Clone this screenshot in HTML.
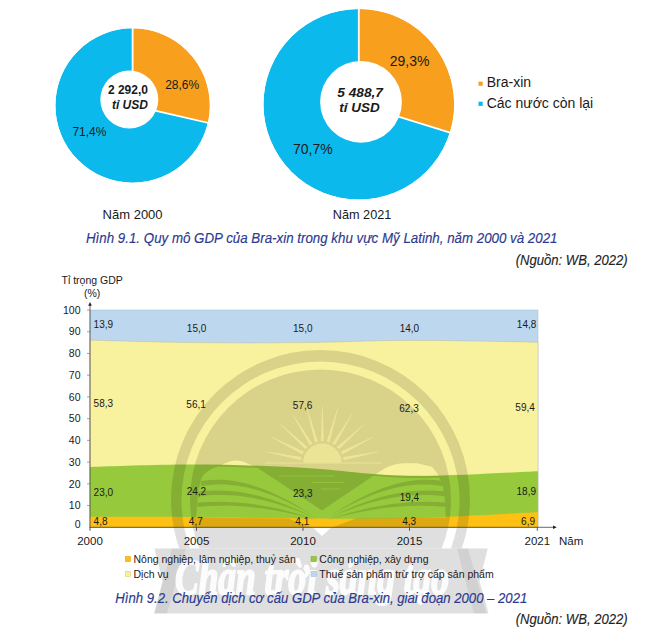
<!DOCTYPE html>
<html lang="vi">
<head>
<meta charset="utf-8">
<title>Hình 9.1 - 9.2</title>
<style>
html,body{margin:0;padding:0;background:#fff;}
body{width:646px;height:633px;overflow:hidden;}
svg{display:block;}
text{font-family:"Liberation Sans",Arial,sans-serif;fill:#1a1a1a;}
.cap{font-style:italic;fill:#2b3990;font-size:14px;stroke:#2b3990;stroke-width:.15px;}
.src{font-style:italic;fill:#222;font-size:14px;stroke:#222;stroke-width:.12px;}
.ctr{font-weight:bold;text-anchor:middle;}
.tick{font-size:10.5px;text-anchor:end;}
.xl{font-size:11.5px;text-anchor:middle;}
.dl{font-size:10px;}
.lg{font-size:10.5px;}
.script{font-family:"Liberation Serif","DejaVu Serif",serif;font-style:italic;font-weight:bold;fill:#fff;stroke:#fff;stroke-width:2px;stroke-linejoin:round;opacity:.92;}
</style>
</head>
<body>
<svg width="646" height="633" viewBox="0 0 646 633">
<rect width="646" height="633" fill="#fff"/>

<circle cx="132.6" cy="105.5" r="77.2" fill="#0cb9ed"/>
<path d="M132.60,105.50 L132.60,27.30 A78.2,78.2 0 0 1 208.81,123.04 Z" fill="#f8a01d" stroke="#fff" stroke-width="1.8" stroke-linejoin="miter"/>
<circle cx="132.6" cy="105.5" r="79.2" fill="none" stroke="#fff" stroke-width="4"/>
<circle cx="129.3" cy="99.5" r="29" fill="#fff"/>
<circle cx="358.8" cy="104.25" r="95.35" fill="#0cb9ed"/>
<path d="M358.80,104.25 L358.80,7.90 A96.35,96.35 0 0 1 450.82,132.82 Z" fill="#f8a01d" stroke="#fff" stroke-width="1.8" stroke-linejoin="miter"/>
<circle cx="358.8" cy="104.25" r="97.35" fill="none" stroke="#fff" stroke-width="4"/>
<circle cx="361" cy="101.8" r="40.9" fill="#fff"/>
<text class="ctr" x="127.9" y="94.2" font-size="12px">2 292,0</text>
<text class="ctr" x="129.9" y="108.6" font-size="12px" font-style="italic">tỉ USD</text>
<text x="165.2" y="89.3" font-size="12px">28,6%</text>
<text x="72.4" y="135.6" font-size="12px">71,4%</text>
<text x="102.6" y="218.8" font-size="13px">Năm 2000</text>
<text class="ctr" x="360.1" y="96.9" font-size="12.7px" font-style="italic" textLength="45.7" lengthAdjust="spacingAndGlyphs">5 488,7</text>
<text class="ctr" x="359.5" y="112.4" font-size="12.7px" font-style="italic" textLength="40.4" lengthAdjust="spacingAndGlyphs">tỉ USD</text>
<text x="389.7" y="65.5" font-size="14px">29,3%</text>
<text x="293" y="153.5" font-size="14px">70,7%</text>
<text x="332.8" y="218.7" font-size="12.7px">Năm 2021</text>
<rect x="478.5" y="81.6" width="4.2" height="4.2" fill="#f8a01d"/>
<text x="486.7" y="87.2" font-size="14px">Bra-xin</text>
<rect x="478.5" y="101.7" width="4.2" height="4.2" fill="#0cb9ed"/>
<text x="486.7" y="107.8" font-size="14px">Các nước còn lại</text>
<text class="cap" x="86" y="243.2" textLength="471.5" lengthAdjust="spacingAndGlyphs">Hình 9.1. Quy mô GDP của Bra-xin trong khu vực Mỹ Latinh, năm 2000 và 2021</text>
<text class="src" x="515.7" y="265" textLength="112" lengthAdjust="spacingAndGlyphs">(Nguồn: WB, 2022)</text>
<path d="M90.00,310.00 C109.17,310.00 158.16,310.00 196.50,310.00 C234.84,310.00 264.66,310.00 303.00,310.00 C341.34,310.00 367.20,310.00 409.50,310.00 C451.80,310.00 514.87,310.00 538.00,310.00 L538.00,527.30 L90.00,527.30 Z" fill="#bdd7ee" stroke="#a8b8c8" stroke-width="0.5"/>
<path d="M90.00,340.20 C109.17,340.63 158.16,342.16 196.50,342.59 C234.84,343.03 264.66,342.99 303.00,342.59 C341.34,342.20 367.20,340.50 409.50,340.42 C451.80,340.34 514.87,341.85 538.00,342.16 L538.00,527.30 L90.00,527.30 Z" fill="#f8f19d" stroke="#b9b48a" stroke-width="0.4"/>
<path d="M90.00,466.89 C109.17,466.46 158.16,464.34 196.50,464.50 C234.84,464.66 264.66,465.73 303.00,467.76 C341.34,469.79 367.20,475.17 409.50,475.80 C451.80,476.43 514.87,472.06 538.00,471.24 L538.00,527.30 L90.00,527.30 Z" fill="#97c93c"/>
<path d="M90.00,516.87 C109.17,516.91 158.16,516.81 196.50,517.09 C234.84,517.36 264.66,518.23 303.00,518.39 C341.34,518.55 367.20,519.05 409.50,517.96 C451.80,516.86 514.87,513.32 538.00,512.31 L538.00,527.30 L90.00,527.30 Z" fill="#fdc013"/>
<defs>
<mask id="wmm" maskUnits="userSpaceOnUse" x="0" y="0" width="646" height="633">
<rect width="646" height="633" fill="#fff"/>
<path d="M303.1,462.7 A19.2,19.2 0 0 1 341.5,462.7 Z" fill="#6a6a6a"/>
<path d="M301.5,457.0 L266.4,451.6 L266.3,452.0 L300.9,460.2 Z M303.8,451.6 L271.5,436.8 L271.3,437.2 L302.4,454.4 Z M307.6,447.0 L280.5,424.0 L280.2,424.3 L305.4,449.3 Z M312.4,443.5 L292.6,414.0 L292.3,414.3 L309.7,445.2 Z M318.0,441.6 L307.0,407.8 L306.6,407.9 L314.9,442.4 Z M323.9,441.2 L322.5,405.7 L322.1,405.7 L320.7,441.2 Z M329.7,442.4 L338.0,407.9 L337.6,407.8 L326.6,441.6 Z M334.9,445.2 L352.3,414.3 L352.0,414.0 L332.2,443.5 Z M339.2,449.3 L364.4,424.3 L364.1,424.0 L337.0,447.0 Z M342.2,454.4 L373.3,437.2 L373.1,436.8 L340.8,451.6 Z M343.7,460.2 L378.3,452.0 L378.2,451.6 L343.1,457.0 Z" fill="#666"/>
<path d="M265,463.0 H381" stroke="#777" stroke-width="1.2"/>
<path d="M201.5,478 C206,471 212,468 220,466 C226,462.5 231,460.6 236,460.6 C242,460.6 247,463 253,466.3 L257,467.5 L322.0,510.5 L379,472 C386,467 395,463.3 404,463.3 L417,463.3 L432,466.7 L438.5,475 L443,487 L445,500 L445.5,514 L446,517.5 L356,518.5 L330.6,528 L322.0,536 L313.4,528 L288,518.5 L196,517.5 L196.5,512 L197.5,500 L198.5,490 Z" fill="#000"/>
<path d="M201,481 C230,477 262,482 314,516 C262,485.5 230,481.5 201,486 Z" fill="#fff"/>
<path d="M198.5,491.5 C232,488 266,493 315,518 C266,496.5 232,492.5 198.5,496.5 Z" fill="#fff"/>
<path d="M197.5,502.5 C236,499.5 275,505 316.5,520 C275,508 236,503.5 197.5,507 Z" fill="#fff"/>
<path d="M443,481 C414,477 382,482 330,516 C382,485.5 414,481.5 443,486 Z" fill="#fff"/>
<path d="M445.5,491.5 C412,488 378,493 329,518 C378,496.5 412,492.5 445.5,496.5 Z" fill="#fff"/>
<path d="M446.5,502.5 C408,499.5 369,505 327.5,520 C369,508 408,503.5 446.5,507 Z" fill="#fff"/>
<path d="M90.00,468.09 C109.17,467.66 158.16,465.54 196.50,465.70 C234.84,465.86 264.66,466.93 303.00,468.96 C341.34,470.99 367.20,476.37 409.50,477.00 C451.80,477.63 514.87,473.26 538.00,472.44" fill="none" stroke="#fff" stroke-width="1.8"/>
<path d="M279,476 H334 M312,482.5 H344 M321,489 H340" stroke="#444" stroke-width="1"/>
</mask>
<clipPath id="wmtop"><rect x="0" y="0" width="646" height="548.5"/></clipPath>
</defs>
<g opacity="0.12" mask="url(#wmm)" fill="#000">
<g clip-path="url(#wmtop)">
<path fill-rule="evenodd" d="M171.00,499.50 a149.5,149.5 0 1 0 299.0,0 a149.5,149.5 0 1 0 -299.0,0 Z M181.50,500.50 a139.0,139.0 0 1 0 278.0,0 a139.0,139.0 0 1 0 -278.0,0 Z"/>
<circle cx="320.5" cy="500.0" r="130.5"/>
</g>
<path d="M154.5,548.5 L487.8,548.5 L479.5,581 L488.5,613.5 L154,613.5 L162.5,581 Z"/>
</g>
<g opacity="0.06" fill="#000">
<path d="M172,548.5 L186,548.5 L167,613.5 L154.5,613.5 Z"/>
<path d="M457,548.5 L468,548.5 L486.5,613.5 L474,613.5 Z"/>
</g>
<text class="script" x="175" y="593.5" font-size="50px" textLength="274" lengthAdjust="spacingAndGlyphs">Chân trời sáng tạo</text>
<path d="M90.0,527.5 V304" stroke="#444" stroke-width="0.8" fill="none"/>
<path d="M88.2,305.8 L90.0,302.1 L91.8,305.8 Z" fill="#222"/>
<path d="M89.6,527.3 H553" stroke="#444" stroke-width="0.8" fill="none"/>
<path d="M553,525.5 L556.8,527.3 L553,529.0999999999999 Z" fill="#222"/>
<path d="M87.0,505.57 H90.0" stroke="#666" stroke-width="0.6"/>
<path d="M87.0,483.84 H90.0" stroke="#666" stroke-width="0.6"/>
<path d="M87.0,462.11 H90.0" stroke="#666" stroke-width="0.6"/>
<path d="M87.0,440.38 H90.0" stroke="#666" stroke-width="0.6"/>
<path d="M87.0,418.65 H90.0" stroke="#666" stroke-width="0.6"/>
<path d="M87.0,396.92 H90.0" stroke="#666" stroke-width="0.6"/>
<path d="M87.0,375.19 H90.0" stroke="#666" stroke-width="0.6"/>
<path d="M87.0,353.46 H90.0" stroke="#666" stroke-width="0.6"/>
<path d="M87.0,331.73 H90.0" stroke="#666" stroke-width="0.6"/>
<path d="M87.0,310.00 H90.0" stroke="#666" stroke-width="0.6"/>
<path d="M90.00,527.3 V530.8" stroke="#333" stroke-width="0.8"/>
<path d="M196.50,527.3 V530.8" stroke="#333" stroke-width="0.8"/>
<path d="M303.00,527.3 V530.8" stroke="#333" stroke-width="0.8"/>
<path d="M409.50,527.3 V530.8" stroke="#333" stroke-width="0.8"/>
<path d="M537.30,527.3 V530.8" stroke="#333" stroke-width="0.8"/>
<text class="tick" x="80.5" y="509.3">10</text>
<text class="tick" x="80.5" y="487.5">20</text>
<text class="tick" x="80.5" y="465.8">30</text>
<text class="tick" x="80.5" y="444.1">40</text>
<text class="tick" x="80.5" y="422.3">50</text>
<text class="tick" x="80.5" y="400.6">60</text>
<text class="tick" x="80.5" y="378.9">70</text>
<text class="tick" x="80.5" y="357.2">80</text>
<text class="tick" x="80.5" y="335.4">90</text>
<text class="tick" x="80.5" y="313.7">100</text>
<text class="tick" x="80.5" y="528">0</text>
<text class="xl" x="90.0" y="545.2">2000</text>
<text class="xl" x="196.5" y="545.2">2005</text>
<text class="xl" x="303.0" y="545.2">2010</text>
<text class="xl" x="409.5" y="545.2">2015</text>
<text class="xl" x="537.3" y="545.2">2021</text>
<text x="559" y="544.9" font-size="11.5px">Năm</text>
<text x="61.5" y="283.9" font-size="10.5px">Tỉ trọng GDP</text>
<text x="84" y="296.5" font-size="10.5px">(%)</text>
<text class="dl" x="93.6" y="328.4" text-anchor="start">13,9</text>
<text class="dl" x="93.6" y="406.7" text-anchor="start">58,3</text>
<text class="dl" x="93.6" y="496" text-anchor="start">23,0</text>
<text class="dl" x="93.6" y="524.7" text-anchor="start">4,8</text>
<text class="dl" x="196.6" y="331.6" text-anchor="middle">15,0</text>
<text class="dl" x="196.1" y="407.6" text-anchor="middle">56,1</text>
<text class="dl" x="196.4" y="494.5" text-anchor="middle">24,2</text>
<text class="dl" x="195.8" y="524.7" text-anchor="middle">4,7</text>
<text class="dl" x="302.8" y="331.6" text-anchor="middle">15,0</text>
<text class="dl" x="302.6" y="408.6" text-anchor="middle">57,6</text>
<text class="dl" x="302.8" y="497" text-anchor="middle">23,3</text>
<text class="dl" x="302.3" y="524.7" text-anchor="middle">4,1</text>
<text class="dl" x="409.4" y="332" text-anchor="middle">14,0</text>
<text class="dl" x="409" y="411.5" text-anchor="middle">62,3</text>
<text class="dl" x="409.4" y="500.7" text-anchor="middle">19,4</text>
<text class="dl" x="409.2" y="524.7" text-anchor="middle">4,3</text>
<text class="dl" x="536.3" y="327.9" text-anchor="end">14,8</text>
<text class="dl" x="534.8" y="410.7" text-anchor="end">59,4</text>
<text class="dl" x="536" y="494.6" text-anchor="end">18,9</text>
<text class="dl" x="535" y="524.7" text-anchor="end">6,9</text>
<rect x="125.2" y="556.3" width="5.5" height="5.5" fill="#fdc013" stroke="#d99a10" stroke-width="0.4"/>
<text class="lg" x="133.5" y="562.6999999999999">Nông nghiệp, lâm nghiệp, thuỷ sản</text>
<rect x="125.2" y="571.2" width="5.5" height="5.5" fill="#f8f19d" stroke="#c9c070" stroke-width="0.4"/>
<text class="lg" x="133.5" y="577.6">Dịch vụ</text>
<rect x="311" y="556.3" width="5.5" height="5.5" fill="#97c93c" stroke="#6fa52c" stroke-width="0.4"/>
<text class="lg" x="319.3" y="562.6999999999999">Công nghiệp, xây dựng</text>
<rect x="311" y="571.2" width="5.5" height="5.5" fill="#bdd7ee" stroke="#9fb6cc" stroke-width="0.4"/>
<text class="lg" x="319.3" y="577.6">Thuế sản phẩm trừ trợ cấp sản phẩm</text>
<text class="cap" x="115.3" y="602.5" textLength="412" lengthAdjust="spacingAndGlyphs">Hình 9.2. Chuyển dịch cơ cấu GDP của Bra-xin, giai đoạn 2000 – 2021</text>
<text class="src" x="515.7" y="624" textLength="112" lengthAdjust="spacingAndGlyphs">(Nguồn: WB, 2022)</text>
</svg>
</body>
</html>
